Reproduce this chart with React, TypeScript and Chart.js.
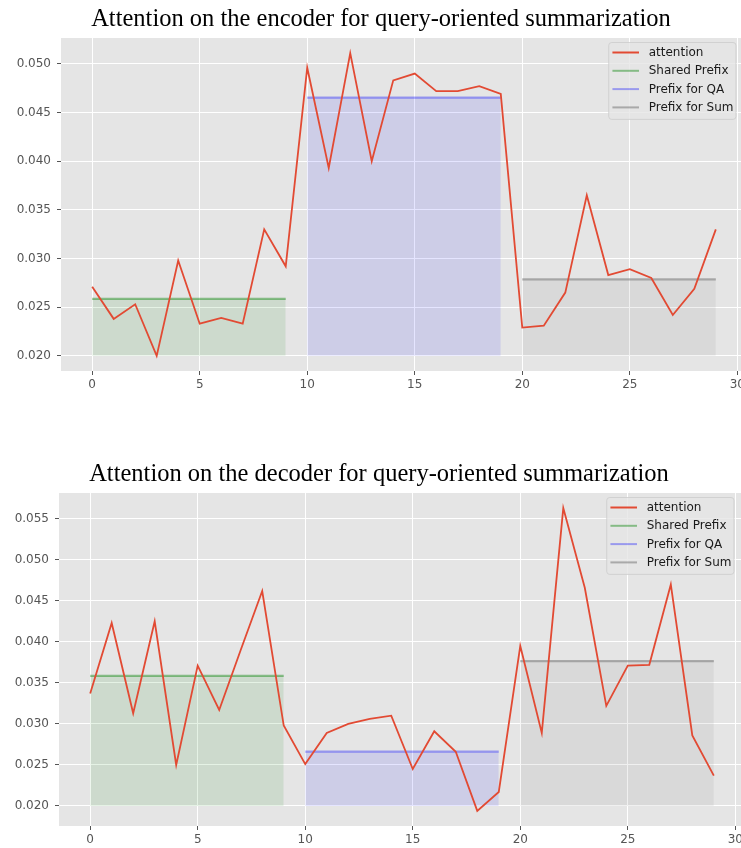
import React, { useEffect, useRef } from "react";
import { Chart, registerables } from "chart.js";

Chart.register(...registerables);

// ---------- data ----------
const positions = [
  0, 1, 2, 3, 4, 5, 6, 7, 8, 9, 10, 11, 12, 13, 14, 15, 16, 17, 18, 19, 20, 21, 22, 23, 24, 25, 26, 27, 28, 29,
];

const encoderAttention = [
  0.0271, 0.0238, 0.0253, 0.02, 0.0298, 0.0233, 0.0239, 0.0233, 0.033, 0.0292,
  0.0496, 0.0393, 0.0511, 0.04, 0.0483, 0.049, 0.0472, 0.0472, 0.0477, 0.0469,
  0.0229, 0.0231, 0.0265, 0.0365, 0.0283, 0.0289, 0.028, 0.0242, 0.0269, 0.033,
];

const decoderAttention = [
  0.0337, 0.0423, 0.0313, 0.0425, 0.025, 0.0371, 0.0317, 0.039, 0.0462, 0.0298,
  0.0251, 0.0289, 0.03, 0.0306, 0.031, 0.0245, 0.0291, 0.0266, 0.0194, 0.0217,
  0.0395, 0.0289, 0.0563, 0.0466, 0.0322, 0.0371, 0.0372, 0.047, 0.0286, 0.0237,
];

const prefixNames = ["Shared Prefix", "Prefix for QA", "Prefix for Sum"];
const prefixStart = [0, 10, 20];
const prefixEnd = [9, 19, 29];
const encoderPrefixLevels = [0.02585, 0.04653, 0.02786];
const decoderPrefixLevels = [0.03585, 0.02662, 0.03766];
const fillBase = 0.02;

const xTickValues = [0, 5, 10, 15, 20, 25, 30];
const encoderYTicks = [0.02, 0.025, 0.03, 0.035, 0.04, 0.045, 0.05];
const decoderYTicks = [0.02, 0.025, 0.03, 0.035, 0.04, 0.045, 0.05, 0.055];

const encoderTitle = "Attention on the encoder for query-oriented summarization";
const decoderTitle = "Attention on the decoder for query-oriented summarization";

// ---------- styles ----------
const attentionColor = "#E24A33";
const prefixLineColors = ["rgba(0,128,0,0.42)", "rgba(0,0,255,0.33)", "rgba(128,128,128,0.6)"];
const prefixFillColors = ["rgba(0,128,0,0.1)", "rgba(0,0,255,0.1)", "rgba(128,128,128,0.12)"];

const CANVAS_W = 760;
const CANVAS_H = 400;

Chart.defaults.font.family = "'DejaVu Sans'";

const mplLegend = {
  id: "mplLegend",
  afterDraw(chart: any) {
    const { ctx, chartArea } = chart;
    const datasets = chart.data.datasets;
    ctx.save();
    ctx.font = "12px 'DejaVu Sans'";
    let textW = 0;
    datasets.forEach((d: any) => {
      textW = Math.max(textW, ctx.measureText(d.label).width);
    });
    const padL = 3.7;
    const handle = 26.6;
    const gap = 9.7;
    const padR = 2.5;
    const rowH = 18.3;
    const w = padL + handle + gap + textW + padR;
    const h = 10 + rowH * (datasets.length - 1) + 12;
    const right = chartArea.right - 11;
    const left = right - w;
    const top = chartArea.top + 4.5;
    const r = 3;
    ctx.beginPath();
    ctx.moveTo(left + r, top);
    ctx.lineTo(left + w - r, top);
    ctx.arcTo(left + w, top, left + w, top + r, r);
    ctx.lineTo(left + w, top + h - r);
    ctx.arcTo(left + w, top + h, left + w - r, top + h, r);
    ctx.lineTo(left + r, top + h);
    ctx.arcTo(left, top + h, left, top + h - r, r);
    ctx.lineTo(left, top + r);
    ctx.arcTo(left, top, left + r, top, r);
    ctx.closePath();
    ctx.fillStyle = "rgba(229,229,229,0.8)";
    ctx.fill();
    ctx.strokeStyle = "rgba(204,204,204,0.8)";
    ctx.lineWidth = 1;
    ctx.stroke();
    datasets.forEach((d: any, i: number) => {
      const cy = top + 10 + i * rowH;
      ctx.beginPath();
      ctx.moveTo(left + padL, cy);
      ctx.lineTo(left + padL + handle, cy);
      ctx.strokeStyle = d.borderColor;
      ctx.lineWidth = 2;
      ctx.stroke();
      ctx.fillStyle = "#1a1a1a";
      ctx.textAlign = "left";
      ctx.textBaseline = "middle";
      ctx.fillText(d.label, left + padL + handle + gap, cy + 0.5);
    });
    ctx.restore();
  },
};

const plotBg = {
  id: "plotBg",
  beforeDraw(chart: any) {
    const { ctx, chartArea } = chart;
    ctx.save();
    ctx.fillStyle = "#E5E5E5";
    ctx.fillRect(chartArea.left, chartArea.top, chartArea.right - chartArea.left, chartArea.bottom - chartArea.top);
    ctx.restore();
  },
};

function buildConfig(title: string, attention: number[], levels: number[], yTicks: number[]) {
  const all = attention.concat(levels, [fillBase]);
  const dMin = Math.min(...all);
  const dMax = Math.max(...all);
  const margin = (dMax - dMin) * 0.05;
  const xMargin = (positions[positions.length - 1] - positions[0]) * 0.05;

  const datasets: any[] = [
    {
      label: "attention",
      data: positions.map((x, i) => ({ x, y: attention[i] })),
      borderColor: attentionColor,
      backgroundColor: attentionColor,
      borderWidth: 1.8,
      pointRadius: 0,
      fill: false,
      tension: 0,
      order: 0,
    },
  ];
  levels.forEach((lv, k) => {
    datasets.push({
      label: prefixNames[k],
      data: [
        { x: prefixStart[k], y: lv },
        { x: prefixEnd[k], y: lv },
      ],
      borderColor: prefixLineColors[k],
      backgroundColor: prefixFillColors[k],
      borderWidth: 2.2,
      pointRadius: 0,
      fill: { value: fillBase },
      order: 1,
    });
  });

  const tickFont = { family: "'DejaVu Sans'", size: 12 };

  return {
    type: "line",
    data: { datasets },
    plugins: [plotBg, mplLegend],
    options: {
      responsive: false,
      animation: false,
      devicePixelRatio: 1,
      layout: { padding: { left: 15, right: 13, top: 0, bottom: 0 } },
      plugins: {
        legend: { display: false },
        tooltip: { enabled: false },
        title: {
          display: true,
          text: title,
          color: "#000",
          font: { family: "'Liberation Serif'", size: 24.5, weight: "normal", lineHeight: 1.2 },
          padding: { top: 4.6, bottom: 4 },
        },
      },
      scales: {
        x: {
          type: "linear",
          min: positions[0] - xMargin,
          max: positions[positions.length - 1] + xMargin,
          afterBuildTicks: (s: any) => {
            s.ticks = xTickValues.map((v) => ({ value: v }));
          },
          afterFit: (s: any) => {
            s.height = 29;
          },
          ticks: {
            color: "#555",
            font: tickFont,
            padding: 3,
            maxRotation: 0,
            autoSkip: false,
            callback: (v: any) => String(v),
          },
          grid: { color: "#ffffff", lineWidth: 1, tickColor: "#555", tickLength: 4, drawTicks: true },
          border: { display: false },
        },
        y: {
          type: "linear",
          min: dMin - margin,
          max: dMax + margin,
          afterBuildTicks: (s: any) => {
            s.ticks = yTicks.map((v) => ({ value: v }));
          },
          afterFit: (s: any) => {
            s.width = 46;
          },
          ticks: {
            color: "#555",
            font: tickFont,
            padding: 6,
            autoSkip: false,
            callback: (v: any) => Number(v).toFixed(3),
          },
          grid: { color: "#ffffff", lineWidth: 1, tickColor: "#555", tickLength: 4, drawTicks: true },
          border: { display: false },
        },
      },
    },
  };
}

function AttentionChart(props: {
  title: string;
  attention: number[];
  levels: number[];
  yTicks: number[];
  left: number;
  top: number;
}) {
  const ref = useRef<HTMLCanvasElement>(null);
  useEffect(() => {
    const cfg: any = buildConfig(props.title, props.attention, props.levels, props.yTicks);
    const chart = new Chart(ref.current as HTMLCanvasElement, cfg);
    return () => chart.destroy();
  }, []);
  return (
    <canvas
      ref={ref}
      width={CANVAS_W}
      height={CANVAS_H}
      style={{ position: "absolute", left: props.left, top: props.top, width: CANVAS_W, height: CANVAS_H }}
    />
  );
}

export default function App() {
  return (
    <div
      style={{
        position: "fixed",
        left: 0,
        top: 0,
        width: 741,
        height: 848,
        overflow: "hidden",
        background: "#ffffff",
      }}
    >
      <AttentionChart
        title={encoderTitle}
        attention={encoderAttention}
        levels={encoderPrefixLevels}
        yTicks={encoderYTicks}
        left={0}
        top={0}
      />
      <AttentionChart
        title={decoderTitle}
        attention={decoderAttention}
        levels={decoderPrefixLevels}
        yTicks={decoderYTicks}
        left={-2}
        top={455}
      />
    </div>
  );
}
